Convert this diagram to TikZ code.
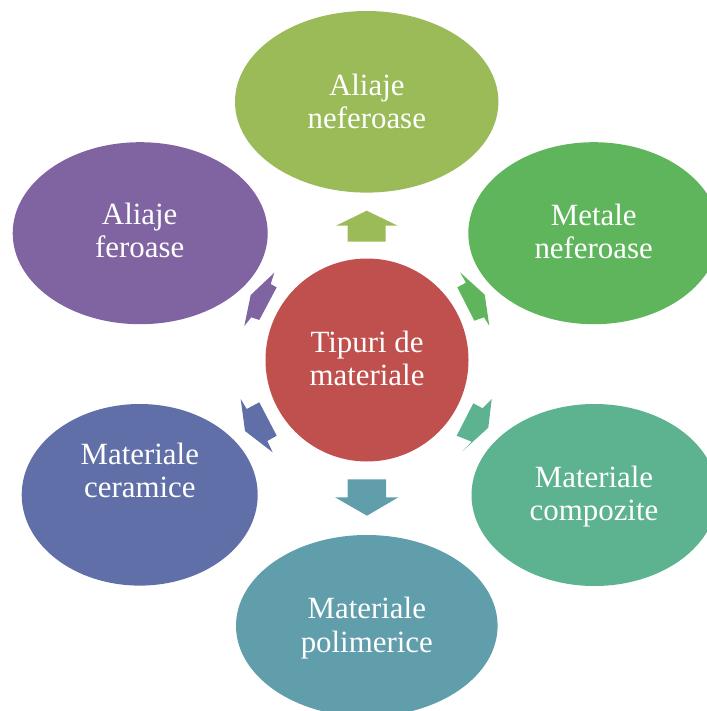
\documentclass[tikz,border=0pt]{standalone}
\usepackage{fontspec}
\setmainfont{Liberation Serif}
\definecolor{cOlive}{HTML}{9BBB59}
\definecolor{cGreen}{HTML}{5FB55C}
\definecolor{cSea}{HTML}{5DB290}
\definecolor{cTeal}{HTML}{609EAC}
\definecolor{cBlue}{HTML}{606FA8}
\definecolor{cPurple}{HTML}{8064A2}
\definecolor{cRed}{HTML}{C0504D}
\tikzset{
  lbl/.style={text=white, align=center, inner sep=0pt, font=\fontsize{31}{33.4}\selectfont},
}
\begin{document}
\begin{tikzpicture}[x=1bp,y=-1bp]
\useasboundingbox (0,0) rectangle (707,711);
\clip (0,0) rectangle (707,711);
% ellipses
\fill[cOlive]  (366.7,101.8) ellipse [x radius=131.7, y radius=90.8];
\fill[cGreen]  (593.8,233.2) ellipse [x radius=125.5, y radius=91];
\fill[cSea]    (594.5,495.0) ellipse [x radius=123, y radius=91];
\fill[cTeal]   (366.8,625.8) ellipse [x radius=130.8, y radius=90.8];
\fill[cBlue]   (139.7,494.8) ellipse [x radius=118, y radius=90.8];
\fill[cPurple] (140.2,233.2) ellipse [x radius=127.5, y radius=91];
\fill[cRed]    (367,360) circle [radius=101.5];
% arrows
\fill[cOlive] (366.7,210.7) -- (397.7,225.7) -- (385.7,225.7) -- (385.7,241.7)
  -- (347.7,241.7) -- (347.7,225.7) -- (336,225.7) -- cycle;
\fill[cTeal] (347.7,479.3) -- (386.2,479.3) -- (386.2,497.3) -- (398.3,497.3)
  -- (367,515.7) -- (335,497.3) -- (347.7,497.3) -- cycle;
\fill[cGreen] (460,272.3) -- (466,282.7) -- (457.3,287.3) -- (474.3,320.7)
  -- (484,317.3) -- (489.3,325.7) -- (484.7,294.7) -- cycle;
\fill[cPurple] (274.3,272.7) -- (270.7,284) -- (276.7,287.3) -- (259.3,320)
  -- (251.3,317.3) -- (244.3,326) -- (250.7,295) -- cycle;
\fill[cBlue] (240.7,399) -- (246.7,409) -- (259.3,402.3) -- (276.7,435.7)
  -- (267.3,441) -- (272.7,452.3) -- (245,431) -- cycle;
\fill[cSea] (491.7,399) -- (488.3,427.7) -- (462.7,451) -- (471.7,441.7)
  -- (456.7,435.7) -- (473.3,403.3) -- (482.7,408.3) -- cycle;
% labels
\node[lbl] (top)  at (366.8,105.0) {\strut Aliaje\\neferoase\strut};
\node[lbl] (rt)   at (593.7,235.0) {\strut Metale\\neferoase\strut};
\node[lbl] (rb)   at (594.0,497.0) {\strut Materiale\\compozite\strut};
\node[lbl] (bot)  at (366.8,628.9) {\strut Materiale\\polimerice\strut};
\node[lbl] (lb)   at (139.8,474.0) {\strut Materiale\\ceramice\strut};
\node[lbl] (lt)   at (139.7,234.7) {\strut Aliaje\\feroase\strut};
\node[lbl] (ctr)  at (367.0,362.0) {\strut Tipuri de\\materiale\strut};
\end{tikzpicture}
\end{document}
